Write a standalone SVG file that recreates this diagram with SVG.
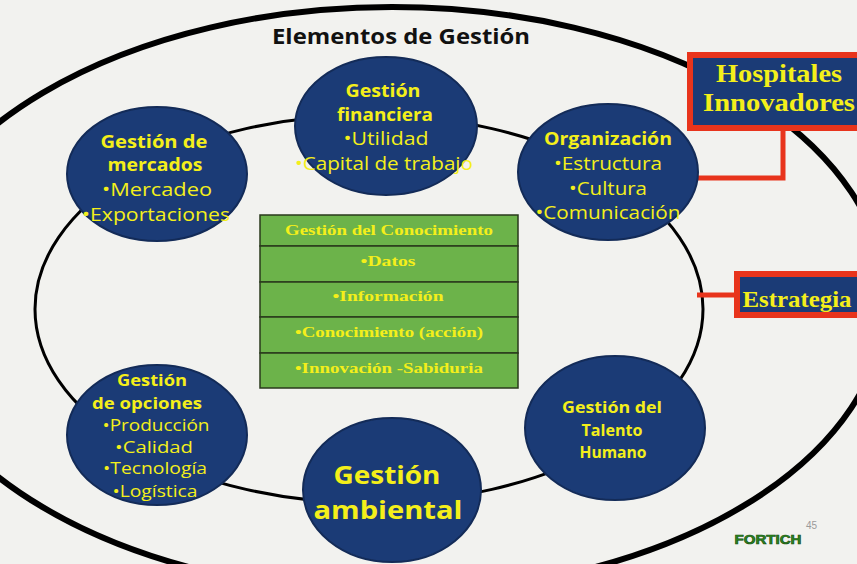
<svg xmlns="http://www.w3.org/2000/svg" width="857" height="564" viewBox="0 0 857 564">
<defs>
<style>
.bg{fill:#f2f2ef}
.ring{fill:none;stroke:#000}
.node{fill:#1b3b76;stroke:#132b58;stroke-width:2}
.hd{font-family:"Open Sans","Liberation Sans",sans-serif;font-weight:bold;fill:#f4ef1a;text-anchor:middle}
.it{font-family:"Open Sans","Liberation Sans",sans-serif;font-weight:500;fill:#f4ef1a;text-anchor:middle}
.srf{font-family:"Liberation Serif","Times New Roman",serif;font-weight:bold;fill:#f4ef1a;text-anchor:middle}
.cell{fill:#6cb34a;stroke:#2a3a1c;stroke-width:1.5}
.redbox{fill:#1b3b76;stroke:#e8341c;stroke-width:6}
.redline{fill:none;stroke:#e8341c;stroke-width:5}
</style>
</defs>
<rect class="bg" x="0" y="0" width="857" height="564"/>

<g id="connectors">
<ellipse class="ring" cx="392" cy="300" rx="494" ry="293" stroke-width="6"/>
<ellipse class="ring" cx="369" cy="309" rx="334" ry="194" stroke-width="3"/>
<polyline class="redline" points="783,128 783,178 698,178"/>
<line class="redline" x1="697" y1="295" x2="737" y2="295"/>
</g>

<text x="401" y="44" font-family="'Open Sans','Liberation Sans',sans-serif" font-weight="bold" font-size="21.5" fill="#111" text-anchor="middle" textLength="258" lengthAdjust="spacingAndGlyphs">Elementos de Gestión</text>

<g id="mercados">
<ellipse class="node" cx="157" cy="174" rx="90" ry="67"/>
<text class="hd" x="154" y="148" font-size="18" textLength="107" lengthAdjust="spacingAndGlyphs">Gestión de</text>
<text class="hd" x="155" y="171" font-size="18" textLength="95" lengthAdjust="spacingAndGlyphs">mercados</text>
<text class="it" x="157" y="196" font-size="18" textLength="110" lengthAdjust="spacingAndGlyphs">•Mercadeo</text>
<text class="it" x="156" y="221" font-size="18" textLength="148" lengthAdjust="spacingAndGlyphs">•Exportaciones</text>
</g>

<g id="financiera">
<ellipse class="node" cx="386" cy="126" rx="91" ry="69"/>
<text class="hd" x="383" y="97" font-size="18" textLength="75" lengthAdjust="spacingAndGlyphs">Gestión</text>
<text class="hd" x="385" y="121" font-size="18" textLength="96" lengthAdjust="spacingAndGlyphs">financiera</text>
<text class="it" x="386" y="145" font-size="18" textLength="85" lengthAdjust="spacingAndGlyphs">•Utilidad</text>
<text class="it" x="384" y="170" font-size="18" textLength="178" lengthAdjust="spacingAndGlyphs">•Capital de trabajo</text>
</g>

<g id="organizacion">
<ellipse class="node" cx="608" cy="172" rx="90" ry="68"/>
<text class="hd" x="608" y="145" font-size="18" textLength="128" lengthAdjust="spacingAndGlyphs">Organización</text>
<text class="it" x="608" y="170" font-size="18" textLength="108" lengthAdjust="spacingAndGlyphs">•Estructura</text>
<text class="it" x="608" y="195" font-size="18" textLength="78" lengthAdjust="spacingAndGlyphs">•Cultura</text>
<text class="it" x="608" y="219" font-size="18" textLength="145" lengthAdjust="spacingAndGlyphs">•Comunicación</text>
</g>

<g id="opciones">
<ellipse class="node" cx="157" cy="435" rx="90" ry="70"/>
<text class="hd" x="152" y="386" font-size="15.5" textLength="70" lengthAdjust="spacingAndGlyphs">Gestión</text>
<text class="hd" x="147" y="409" font-size="15.5" textLength="110" lengthAdjust="spacingAndGlyphs">de opciones</text>
<text class="it" x="156" y="431" font-size="15.5" textLength="107" lengthAdjust="spacingAndGlyphs">•Producción</text>
<text class="it" x="154" y="453" font-size="15.5" textLength="78" lengthAdjust="spacingAndGlyphs">•Calidad</text>
<text class="it" x="155" y="474" font-size="15.5" textLength="104" lengthAdjust="spacingAndGlyphs">•Tecnología</text>
<text class="it" x="155" y="497" font-size="15.5" textLength="85" lengthAdjust="spacingAndGlyphs">•Logística</text>
</g>

<g id="ambiental">
<ellipse class="node" cx="392" cy="490" rx="89" ry="72"/>
<text class="hd" x="387" y="484" font-size="25" textLength="107" lengthAdjust="spacingAndGlyphs">Gestión</text>
<text class="hd" x="388" y="519" font-size="25" textLength="149" lengthAdjust="spacingAndGlyphs">ambiental</text>
</g>

<g id="talento">
<ellipse class="node" cx="615" cy="428" rx="90" ry="72"/>
<text class="hd" x="612" y="413" font-size="15.5" textLength="100" lengthAdjust="spacingAndGlyphs">Gestión del</text>
<text class="hd" x="612" y="436" font-size="15.5" textLength="61" lengthAdjust="spacingAndGlyphs">Talento</text>
<text class="hd" x="613" y="458" font-size="15.5" textLength="67" lengthAdjust="spacingAndGlyphs">Humano</text>
</g>

<g id="conocimiento">
<rect class="cell" x="260" y="215" width="258" height="31"/>
<rect class="cell" x="260" y="246" width="258" height="36"/>
<rect class="cell" x="260" y="282" width="258" height="35"/>
<rect class="cell" x="260" y="317" width="258" height="36"/>
<rect class="cell" x="260" y="353" width="258" height="35"/>
<text class="srf" x="389" y="235" font-size="15.5" textLength="208" lengthAdjust="spacingAndGlyphs">Gestión del Conocimiento</text>
<text class="srf" x="388" y="266" font-size="15.5" textLength="55" lengthAdjust="spacingAndGlyphs">•Datos</text>
<text class="srf" x="388" y="301" font-size="15.5" textLength="111" lengthAdjust="spacingAndGlyphs">•Información</text>
<text class="srf" x="389" y="337" font-size="15.5" textLength="188" lengthAdjust="spacingAndGlyphs">•Conocimiento (acción)</text>
<text class="srf" x="389" y="373" font-size="15.5" textLength="188" lengthAdjust="spacingAndGlyphs">•Innovación -Sabiduria</text>
</g>

<g id="hospitales">
<rect class="redbox" x="690" y="55" width="185" height="73"/>
<text class="srf" x="779" y="82" font-size="26" textLength="126" lengthAdjust="spacingAndGlyphs">Hospitales</text>
<text class="srf" x="779" y="111" font-size="26" textLength="152" lengthAdjust="spacingAndGlyphs">Innovadores</text>
</g>

<g id="estrategia">
<rect class="redbox" x="737" y="274" width="135" height="41"/>
<text class="srf" x="797" y="307" font-size="23" textLength="109" lengthAdjust="spacingAndGlyphs">Estrategia</text>
</g>

<g id="fortich">
<text x="768" y="544" font-family="'Liberation Sans',sans-serif" font-weight="900" font-size="12" fill="#2e8b1e" stroke="#144d10" stroke-width="0.6" text-anchor="middle" textLength="67" lengthAdjust="spacingAndGlyphs">FORTICH</text>
<text x="806" y="529" font-family="'Liberation Sans',sans-serif" font-size="10" fill="#9a9a9a">45</text>
</g>
</svg>
